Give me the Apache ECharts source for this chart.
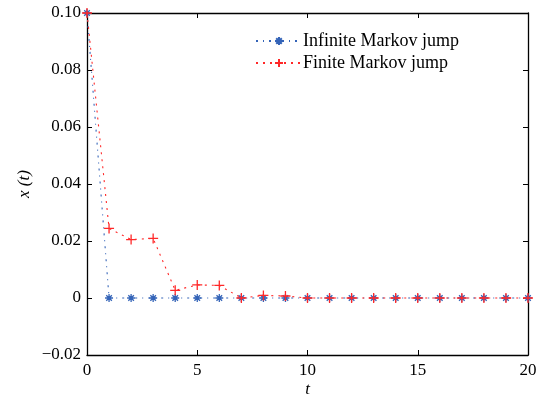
<!DOCTYPE html>
<html>
<head>
<meta charset="utf-8">
<script src="https://cdn.jsdelivr.net/npm/echarts@6/dist/echarts.min.js"></script>
<style>
    html, body { margin: 0; padding: 0; background: #fff; }
    #chart { width: 544px; height: 396px; }
</style>
</head>
<body>
<div id="chart"></div>
<script>
    // 时间步 t = 0..20
    var tValues = [0, 1, 2, 3, 4, 5, 6, 7, 8, 9, 10, 11, 12, 13, 14, 15, 16, 17, 18, 19, 20];
    var infiniteJump = [0.1, 0, 0, 0, 0, 0, 0, 0, 0, 0, 0, 0, 0, 0, 0, 0, 0, 0, 0, 0, 0];
    var finiteJump = [0.1, 0.0244, 0.0205, 0.0209, 0.0027, 0.0046, 0.0044, 0, 0.0009, 0.0007,
        0, 0, 0, 0, 0, 0, 0, 0, 0, 0, 0];
    var seriesNames = ['Infinite Markov jump', 'Finite Markov jump'];

    var blue = '#3464b8';
    var red = '#ff2828';
    var serif = '"Liberation Serif", "DejaVu Serif", serif';

    var starPath = 'path://M0,5L10,5M5,0L5,10M1.5,1.5L8.5,8.5M8.5,1.5L1.5,8.5';
    var plusPath = 'path://M0,5L10,5M5,0L5,10';

    function pairs(values) {
        var out = [];
        for (var i = 0; i < tValues.length; i++) {
            out.push([tValues[i], values[i]]);
        }
        return out;
    }

    function yLabel(v) {
        if (Math.abs(v) < 1e-9) {
            return '0';
        }
        return v.toFixed(2).replace('-', '\u2212');
    }

    var tickStyle = { show: true, inside: true, length: 5, lineStyle: { color: '#000', width: 1 } };
    var lineAxis = { onZero: false, lineStyle: { color: '#000', width: 1.3 } };
    var labelStyle = { color: '#000', fontFamily: serif, fontSize: 17 };

    var chart = echarts.init(document.getElementById('chart'));
    chart.setOption({
        animation: false,
        backgroundColor: '#fff',
        grid: { left: 87, right: 16, top: 13, bottom: 41, containLabel: false, outerBoundsMode: 'none' },
        legend: {
            data: seriesNames,
            orient: 'vertical',
            left: 250,
            top: 27,
            itemWidth: 46,
            itemHeight: 10,
            itemGap: 4,
            textStyle: { color: '#000', fontFamily: serif, fontSize: 18, padding: [0, 0, 0, -4] }
        },
        xAxis: [
            {
                type: 'value', min: 0, max: 20, interval: 5,
                name: 't', nameLocation: 'middle', nameGap: 26, nameMoveOverlap: false,
                nameTextStyle: { color: '#000', fontFamily: serif, fontSize: 17, fontStyle: 'italic' },
                axisLine: lineAxis, axisTick: tickStyle,
                axisLabel: Object.assign({ margin: 7 }, labelStyle), splitLine: { show: false }
            },
            {
                type: 'value', min: 0, max: 20, interval: 5, position: 'top',
                axisLine: lineAxis, axisTick: tickStyle,
                axisLabel: { show: false }, splitLine: { show: false }
            }
        ],
        yAxis: [
            {
                type: 'value', min: -0.02, max: 0.1, interval: 0.02,
                name: 'x (t)', nameLocation: 'middle', nameGap: 54, nameRotate: 90, nameMoveOverlap: false,
                nameTextStyle: { color: '#000', fontFamily: serif, fontSize: 17, fontStyle: 'italic' },
                axisLine: lineAxis, axisTick: tickStyle,
                axisLabel: Object.assign({ formatter: yLabel, margin: 6 }, labelStyle),
                splitLine: { show: false }
            },
            {
                type: 'value', min: -0.02, max: 0.1, interval: 0.02, position: 'right',
                axisLine: lineAxis, axisTick: tickStyle,
                axisLabel: { show: false }, splitLine: { show: false }
            }
        ],
        series: [
            {
                name: seriesNames[0],
                type: 'line',
                data: pairs(infiniteJump),
                symbol: starPath,
                symbolSize: 8,
                showAllSymbol: true,
                lineStyle: { color: blue, width: 1.1, type: [2, 5, 1, 5] },
                itemStyle: { color: blue, borderColor: blue, borderWidth: 1.3 },
                z: 2
            },
            {
                name: seriesNames[1],
                type: 'line',
                data: pairs(finiteJump),
                symbol: plusPath,
                symbolSize: 10,
                showAllSymbol: true,
                lineStyle: { color: red, width: 1.1, type: [2, 5] },
                itemStyle: { color: red, borderColor: red, borderWidth: 1.3 },
                z: 3
            }
        ]
    });
</script>
</body>
</html>
